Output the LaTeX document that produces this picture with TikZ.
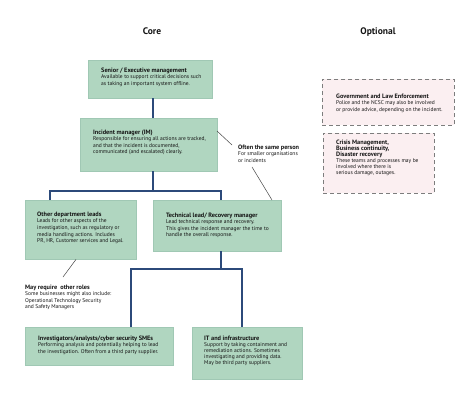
\documentclass[tikz,border=0pt]{standalone}
\usepackage{fontspec}
\setmainfont{PT Sans}
\usetikzlibrary{calc}
\definecolor{boxfill}{RGB}{176,214,192}
\definecolor{boxline}{RGB}{160,200,180}
\definecolor{conncol}{RGB}{44,74,122}
\definecolor{optfill}{RGB}{251,239,241}
\definecolor{optline}{RGB}{125,125,125}
\definecolor{txtcol}{RGB}{20,20,20}
\definecolor{notecol}{RGB}{70,70,70}
\newcommand{\hb}[1]{{\fontsize{6.3}{6.6}\selectfont\bfseries #1}}
\begin{document}
\begin{tikzpicture}[x=1pt,y=-1pt,
  corebox/.style={draw=boxline, line width=0.4pt, fill=boxfill, anchor=north west, inner sep=0pt},
  optbox/.style={draw=optline, line width=0.9pt, dash pattern=on 4pt off 3pt, fill=optfill, anchor=north west, inner sep=0pt},
  conn/.style={draw=conncol, line width=1.4pt},
  note/.style={draw=notecol, line width=0.5pt},
  txt/.style={anchor=north west, inner sep=0pt, align=left, text=txtcol, font=\fontsize{5.5}{6.6}\selectfont},
  tighttxt/.style={txt, font=\fontsize{5.5}{6.0}\selectfont},
  hd/.style={anchor=base, inner sep=0pt, text=txtcol, font=\fontsize{9.5}{11}\selectfont\bfseries}]
\useasboundingbox (0,0) rectangle (474,404);
\fill[white] (0,0) rectangle (474,404);
% titles
\node[hd] (core) at (152,35) {Core};
\node[hd] (opt) at (378,35) {Optional};
% boxes
\node[corebox, minimum width=124pt, minimum height=38pt] (sen) at (88,60) {};
\node[corebox, minimum width=137pt, minimum height=53pt] (im) at (80,118) {};
\node[corebox, minimum width=111pt, minimum height=59pt] (oth) at (25,200) {};
\node[corebox, minimum width=128pt, minimum height=51pt] (tech) at (153,200) {};
\node[corebox, minimum width=148pt, minimum height=38pt] (inv) at (25,327) {};
\node[corebox, minimum width=110pt, minimum height=52pt] (it) at (192,327) {};
\node[optbox, minimum width=132pt, minimum height=46pt] (gov) at (322,79) {};
\node[optbox, minimum width=111pt, minimum height=60pt] (cri) at (323,133) {};
% texts
\node[txt] (senT) at (101,67.5) {\hb{Senior / Executive management}\\Available to support critical decisions such\\as taking an important system offline.};
\node[txt] (imT) at (93,129.5) {\hb{Incident manager (IM)}\\Responsible for ensuring all actions are tracked,\\and that the incident is documented,\\communicated (and escalated) clearly.};
\node[txt] (othT) at (37,211.5) {\hb{Other department leads}\\Leads for other aspects of the\\investigation, such as regulatory or\\media handling actions. Includes\\PR, HR, Customer services and Legal.};
\node[txt] (techT) at (166,212.5) {\hb{Technical lead/ Recovery manager}\\Lead technical response and recovery.\\This gives the incident manager the time to\\handle the overall response.};
\node[txt] (invT) at (38,335.5) {\hb{Investigators/analysts/cyber security SMEs}\\Performing analysis and potentially helping to lead\\the investigation. Often from a third party supplier.};
\node[tighttxt] (itT) at (204,335.5) {\hb{IT and infrastructure}\\Support by taking containment and\\remediation actions. Sometimes\\investigating and providing data.\\May be third party suppliers.};
\node[txt] (govT) at (336,93.5) {\hb{Government and Law Enforcement}\\Police and the NCSC may also be involved\\or provide advice, depending on the incident.};
\node[tighttxt] (criT) at (336,139.5) {\hb{Crisis Management,}\\\hb{Business continuity,}\\\hb{Disaster recovery}\\These teams and processes may be\\involved where there is\\serious damage, outages.};
\node[txt] (often) at (238,144.5) {\hb{Often the same person}\\For smaller organisations\\or incidents};
\node[txt] (may) at (25,284.5) {\hb{May require\ \ other roles}\\Some businesses might also include:\\Operational Technology Security\\and Safety Managers};
% connectors
\coordinate (jx) at (153,0);
\coordinate (j1) at (153,191);
\coordinate (a1) at (50,0);
\coordinate (b1) at (221,0);
\coordinate (j2) at (221,269);
\coordinate (a2) at (131,0);
\coordinate (b2) at (242,0);
\draw[conn] (sen.south -| jx) -- (im.north -| jx);
\draw[conn] (im.south -| j1) -- (j1);
\draw[conn] (oth.north -| a1) |- (j1) -| (tech.north -| b1);
\draw[conn] (tech.south -| j2) -- (j2);
\draw[conn] (inv.north -| a2) |- (j2) -| (it.north -| b2);
% notes
\coordinate (n1a) at (217,131);
\coordinate (n1b) at (232,145);
\coordinate (n2a) at (252,167);
\coordinate (n2x) at (272,0);
\coordinate (n3a) at (76,0);
\coordinate (n3b) at (63,277);
\draw[note] (n1a) -- (n1b);
\draw[note] (n2a) -- (tech.north -| n2x);
\draw[note] (oth.south -| n3a) -- (n3b);
\end{tikzpicture}
\end{document}
